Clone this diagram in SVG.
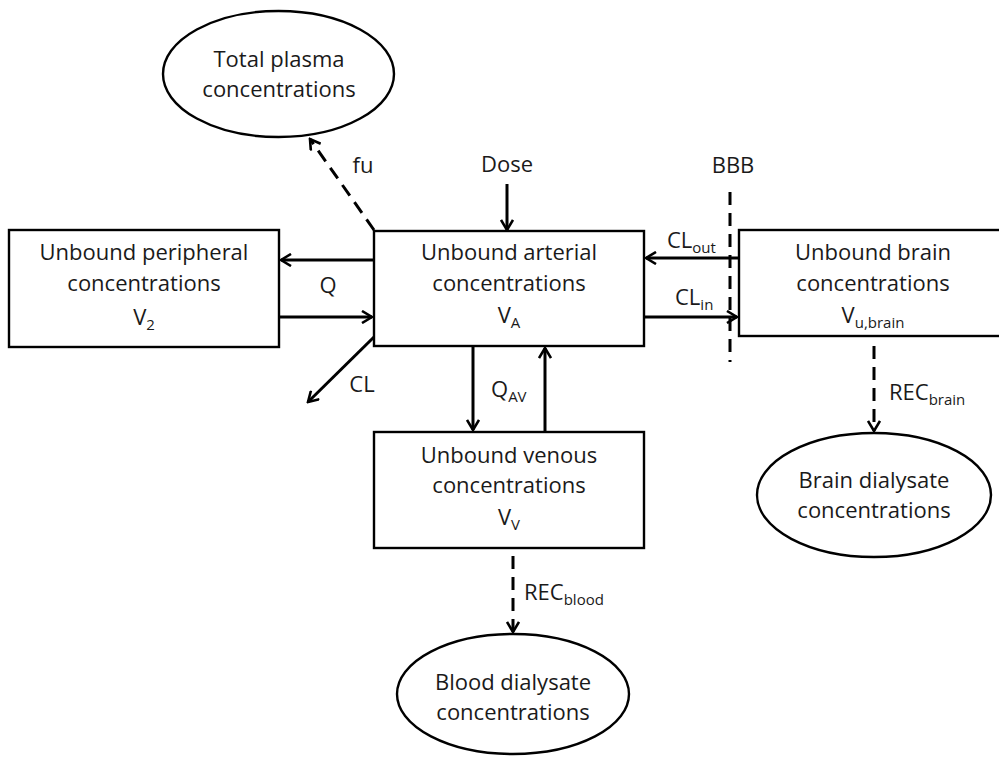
<svg xmlns="http://www.w3.org/2000/svg" width="999" height="757" viewBox="0 0 999 757">
<defs>
<marker id="ah" viewBox="0 0 14 14" refX="12" refY="7" markerWidth="14" markerHeight="14" markerUnits="userSpaceOnUse" orient="auto">
<path d="M2,1 L12,7 L2,13" fill="none" stroke="#000" stroke-width="2.6"/>
</marker>
</defs>
<style>
text{font-family:"Open Sans","Liberation Sans",sans-serif;font-size:22px;fill:#1a1a1a;text-anchor:middle}
.box{fill:#fff;stroke:#000;stroke-width:2.4}
.c{fill:none;stroke:#000;stroke-width:3;marker-end:url(#ah)}
.d{fill:none;stroke:#000;stroke-width:3;stroke-dasharray:13,8}
.dm{marker-end:url(#ah)}
.l{text-anchor:start}
.s{font-size:15px}
</style>
<rect width="999" height="757" fill="#fff"/>
<g id="connectors">
<line class="c" x1="507" y1="184" x2="507" y2="230"/>
<line class="c" x1="374" y1="260" x2="281" y2="260"/>
<line class="c" x1="279" y1="317" x2="372" y2="317"/>
<line class="d dm" x1="374" y1="230" x2="310" y2="139"/>
<line class="c" x1="374" y1="337" x2="308" y2="402"/>
<line class="c" x1="473" y1="346" x2="473" y2="430"/>
<line class="c" x1="545" y1="432" x2="545" y2="348"/>
<line class="c" x1="739" y1="258" x2="646" y2="258"/>
<line class="c" x1="644" y1="317" x2="737" y2="317"/>
<line class="d" x1="730" y1="192" x2="730" y2="362"/>
<line class="d dm" x1="874" y1="346" x2="874" y2="431"/>
<line class="d dm" x1="513" y1="556" x2="513" y2="632"/>
</g>
<g id="total-plasma">
<ellipse class="box" cx="278.5" cy="74" rx="115.5" ry="63"/>
<text x="279" y="67">Total plasma</text>
<text x="279" y="97">concentrations</text>
</g>
<g id="peripheral">
<rect class="box" x="9" y="230" width="270" height="117"/>
<text x="144" y="260">Unbound peripheral</text>
<text x="144" y="291">concentrations</text>
<text x="144" y="325">V<tspan class="s" dy="5">2</tspan></text>
</g>
<g id="arterial">
<rect class="box" x="374" y="231" width="270" height="115"/>
<text x="509" y="260">Unbound arterial</text>
<text x="509" y="291">concentrations</text>
<text x="509" y="323">V<tspan class="s" dy="5">A</tspan></text>
</g>
<g id="brain">
<rect class="box" x="739" y="230" width="270" height="106"/>
<text x="873" y="260">Unbound brain</text>
<text x="873" y="291">concentrations</text>
<text x="873" y="323">V<tspan class="s" dy="5">u,brain</tspan></text>
</g>
<g id="venous">
<rect class="box" x="374" y="432" width="270" height="116"/>
<text x="509" y="463">Unbound venous</text>
<text x="509" y="493">concentrations</text>
<text x="509" y="525">V<tspan class="s" dy="5">V</tspan></text>
</g>
<g id="blood-dialysate">
<ellipse class="box" cx="513" cy="694" rx="116" ry="60"/>
<text x="513" y="690">Blood dialysate</text>
<text x="513" y="720">concentrations</text>
</g>
<g id="brain-dialysate">
<ellipse class="box" cx="874" cy="495" rx="117" ry="62"/>
<text x="874" y="488">Brain dialysate</text>
<text x="874" y="518">concentrations</text>
</g>
<g id="labels">
<text x="507" y="172">Dose</text>
<text x="733" y="173">BBB</text>
<text x="363" y="173">fu</text>
<text x="328" y="293">Q</text>
<text x="362" y="392">CL</text>
<text class="l" x="491" y="397">Q<tspan class="s" dy="5">AV</tspan></text>
<text class="l" x="667" y="248">CL<tspan class="s" dy="5">out</tspan></text>
<text class="l" x="675" y="305">CL<tspan class="s" dy="5">in</tspan></text>
<text class="l" x="889" y="400">REC<tspan class="s" dy="5">brain</tspan></text>
<text class="l" x="524" y="600">REC<tspan class="s" dy="5">blood</tspan></text>
</g>
</svg>
